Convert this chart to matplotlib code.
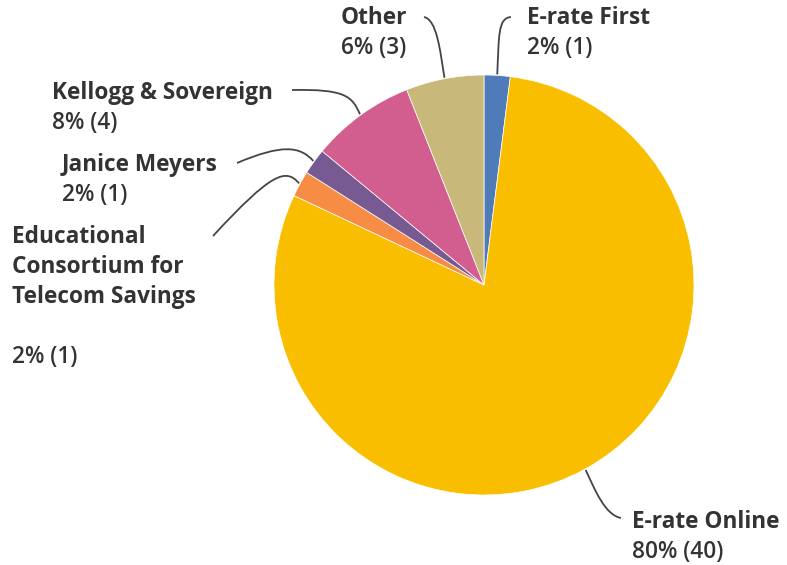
import matplotlib
matplotlib.use("Agg")
import matplotlib.pyplot as plt
import numpy as np
from matplotlib.path import Path
from matplotlib.patches import PathPatch

# data
names = ["E-rate First", "E-rate Online", "Educational\nConsortium for\nTelecom Savings\n",
         "Janice Meyers", "Kellogg & Sovereign", "Other"]
counts = [1, 40, 1, 1, 4, 3]
pcts = ["2%", "80%", "2%", "2%", "8%", "6%"]
colors = ["#4f7cb9", "#f9be00", "#f78d45", "#785a92", "#d25e8f", "#c8b879"]

W, H = 787, 565
cx, cy, R = 484, 285, 210

def P(x, y):
    # pixel (top-left origin) -> axes data coords
    return (x, H - y)

fig = plt.figure(figsize=(W / 100, H / 100), dpi=100)
ax = fig.add_axes([0, 0, 1, 1])
ax.pie(counts, colors=colors, startangle=90, counterclock=False,
       center=P(cx, cy), radius=R,
       wedgeprops=dict(linewidth=0.5, edgecolor="white"))
ax.set_xlim(0, W)
ax.set_ylim(0, H)
ax.set_aspect("equal")
ax.axis("off")

# mid angles of slices
total = sum(counts)
edges = 90 - 360 * np.cumsum([0] + counts) / total
mids = (edges[:-1] + edges[1:]) / 2

# label layout: text left x, first line y, leader ctrl points and end (pixels)
layout = [
    (527, 18, (499, 35), (498, 18), (511, 17)),
    (632, 522, (595, 490), (605, 515), (621, 518)),
    (12, 237, (286, 168), (272, 172), (213, 236)),
    (62, 165, (300, 146), (282, 144), (237, 163)),
    (52, 93, (352, 96), (345, 89), (292, 90)),
    (341, 18, (440, 50), (437, 20), (424, 17)),
]

txt = "#333333"
font = "Open Sans"
fs = 16.3
for name, n, pct, ang, (tx, ty, c1, c2, end) in zip(names, counts, pcts, mids, layout):
    a = np.deg2rad(ang)
    e = (cx + (R + 1) * np.cos(a), cy - (R + 1) * np.sin(a))
    verts = [P(*e), P(*c1), P(*c2), P(*end)]
    path = Path(verts, [Path.MOVETO, Path.CURVE4, Path.CURVE4, Path.CURVE4])
    ax.add_patch(PathPatch(path, fc="none", ec="#444444", lw=1.3))
    lines = name.split("\n")
    for i, ln in enumerate(lines):
        ax.text(*P(tx, ty + 30 * i), ln, fontsize=fs, fontweight="bold",
                family=font, color=txt, va="center", ha="left")
    ax.text(*P(tx, ty + 30 * len(lines)), f"{pct} ({n})", fontsize=fs,
            fontweight="semibold", family=font, color=txt, va="center", ha="left")

fig.savefig("out.png", dpi=100)
